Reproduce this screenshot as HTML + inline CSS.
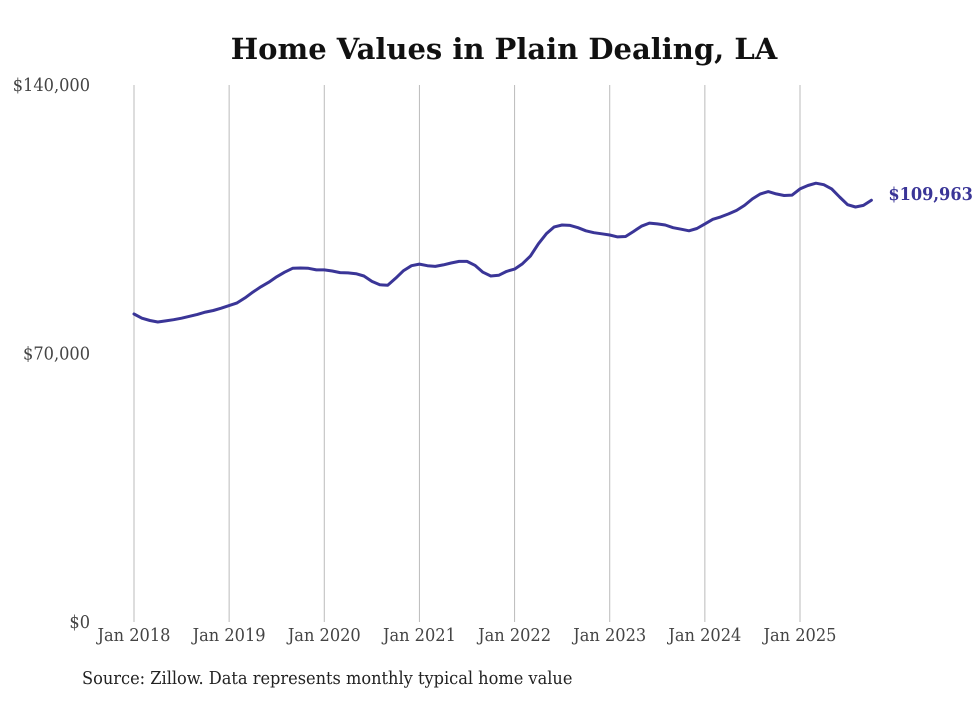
<!DOCTYPE html>
<html><head><meta charset="utf-8">
<style>
body{margin:0;background:#fff;width:980px;height:699px;overflow:hidden}
svg text{font-family:"DejaVu Serif Condensed","DejaVu Serif","Liberation Serif",serif}
</style></head>
<body>
<svg id="chart" width="980" height="699" xmlns="http://www.w3.org/2000/svg">
<text x="504" y="59" text-anchor="middle" font-size="29" font-weight="bold" fill="#111" style="font-family:'DejaVu Serif','Liberation Serif',serif">Home Values in Plain Dealing, LA</text>
<g id="grid"></g><g id="yt"></g><g id="xt"></g><g id="series"></g>
<text x="82" y="684" font-size="18" fill="#222">Source: Zillow. Data represents monthly typical home value</text>
</svg>
<script>
const yTicks=[0,70000,140000];
const yLabels=["$0","$70,000","$140,000"];
const xYears=[2018,2019,2020,2021,2022,2023,2024,2025];
const xLabels=["Jan 2018","Jan 2019","Jan 2020","Jan 2021","Jan 2022","Jan 2023","Jan 2024","Jan 2025"];
const values=[80.3,79.2,78.6,78.2,78.5,78.8,79.2,79.7,80.2,80.8,81.2,81.8,82.5,83.2,84.5,86.0,87.4,88.6,90.0,91.2,92.2,92.3,92.2,91.8,91.8,91.5,91.1,91.0,90.8,90.2,88.8,87.9,87.8,89.6,91.6,92.9,93.3,92.9,92.7,93.1,93.6,94.0,94.0,93.0,91.2,90.2,90.4,91.4,92.0,93.4,95.4,98.6,101.2,103.0,103.5,103.4,102.8,102.0,101.5,101.2,100.9,100.4,100.5,101.8,103.2,104.0,103.8,103.5,102.8,102.4,102.0,102.6,103.8,105.0,105.6,106.4,107.3,108.6,110.3,111.6,112.2,111.6,111.2,111.3,112.9,113.8,114.4,114.0,112.9,110.8,108.8,108.2,108.6,109.963];
const SVGNS="http://www.w3.org/2000/svg";
const X0=134,X1=800,Y0=622,Y1=85;
const xs=m=>X0+m*(X1-X0)/84;
const ys=v=>Y0-(v/140000)*(Y0-Y1);
function mk(tag,attrs,parent){const e=document.createElementNS(SVGNS,tag);for(const k in attrs)e.setAttribute(k,attrs[k]);document.getElementById(parent).appendChild(e);return e;}
xYears.forEach((yr,i)=>{
  const x=xs((yr-2018)*12);
  const l=mk('line',{x1:x,x2:x,y1:Y1,y2:Y0,stroke:'#bbb','stroke-width':1},'grid');
  
  
  const t=mk('text',{x:x,y:641,'text-anchor':'middle','font-size':18,fill:'#444'},'xt');
  t.textContent=xLabels[i];
  
  
});
yTicks.forEach((v,i)=>{
  const t=mk('text',{x:90,y:ys(v)+6,'text-anchor':'end','font-size':18,fill:'#444'},'yt');
  t.textContent=yLabels[i];
  
  
});
const d=values.map((v,i)=>(i?'L':'M')+xs(i).toFixed(1)+','+ys(v*1000).toFixed(1)).join('');
const p=mk('path',{d:d,fill:'none',stroke:'#3a3597','stroke-width':3,'stroke-linejoin':'round','stroke-linecap':'round'},'series');


const last=values.length-1;
const lbl=mk('text',{x:xs(last)+17,y:ys(values[last]*1000)+0,'font-size':18,'font-weight':'bold',fill:'#3a3597'},'series');
lbl.textContent='$'+Math.round(values[last]*1000).toLocaleString('en-US');


</script>
</body></html>
